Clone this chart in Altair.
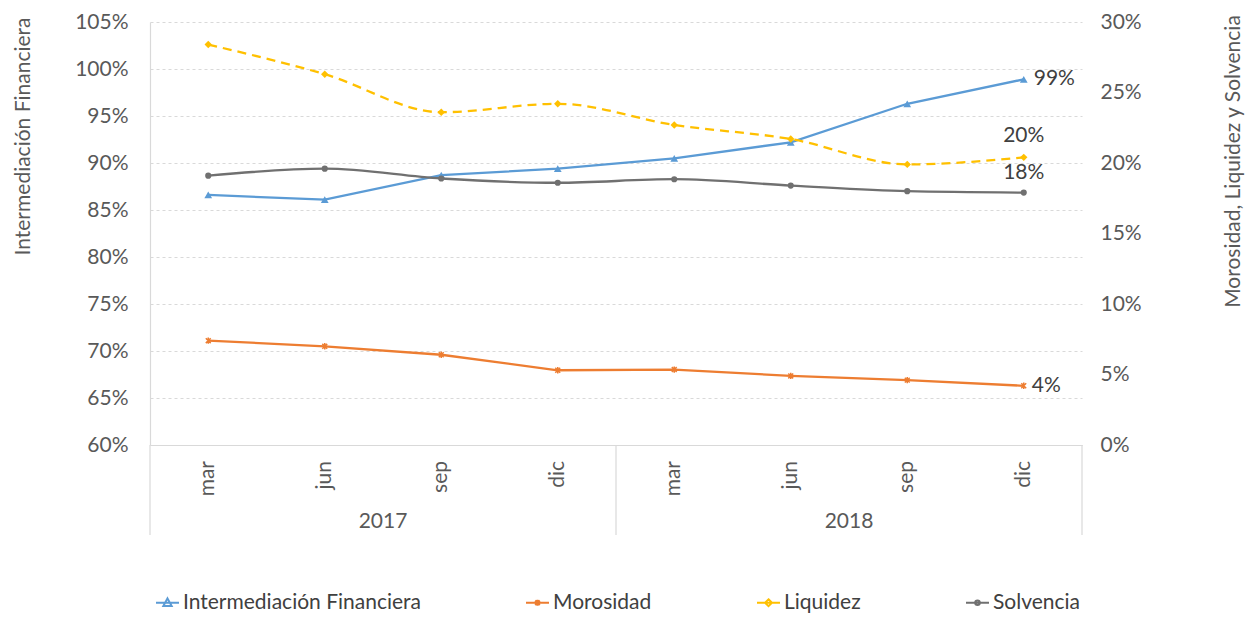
import altair as alt
import pandas as pd

# ---- data ----
months = ["mar", "jun", "sep", "dic", "mar", "jun", "sep", "dic"]
years = ["2017", "2017", "2017", "2017", "2018", "2018", "2018", "2018"]
intermediacion = [86.6, 86.1, 88.7, 89.4, 90.5, 92.2, 96.3, 98.9]
morosidad = [7.4, 7.0, 6.4, 5.3, 5.35, 4.9, 4.6, 4.2]
liquidez = [28.4, 26.3, 23.6, 24.2, 22.7, 21.7, 19.9, 20.4]
solvencia = [19.1, 19.6, 18.9, 18.6, 18.85, 18.4, 18.0, 17.9]
series_names = ["Intermediación Financiera", "Morosidad", "Liquidez", "Solvencia"]
year_labels = ["2017", "2018"]
left_ticks = [60, 65, 70, 75, 80, 85, 90, 95, 100, 105]
right_ticks = [0, 5, 10, 15, 20, 25, 30]

colors = ["#5B9BD5", "#ED7D31", "#FFC000", "#707070"]
FONT = "Lato"
FS = 21
TXT = "#595959"
GRID = "#D9D9D9"
H = 423

idx = list(range(len(months)))
rows = []
for name, vals in zip(series_names, [intermediacion, morosidad, liquidez, solvencia]):
    for i, v in zip(idx, vals):
        rows.append({"idx": i, "month": months[i], "year": years[i], "series": name, "value": v})
df = pd.DataFrame(rows)

month_df = pd.DataFrame({"idx": idx, "month": months})
year_df = pd.DataFrame({"pos": [1.5, 5.5], "year": year_labels})
sep_df = pd.DataFrame({"pos": [-0.5, 3.5, 7.5]})

xscale = alt.Scale(domain=[-0.5, 7.5], nice=False, zero=False)
X = alt.X("idx:Q", scale=xscale,
          axis=alt.Axis(labels=False, ticks=False, grid=False, title=None,
                        domainColor=GRID, domainWidth=1.2))

yL = alt.Y("value:Q", scale=alt.Scale(domain=[60, 105], nice=False, zero=False),
           axis=alt.Axis(values=left_ticks, labelExpr="datum.value + '%'", ticks=False,
                         grid=True, gridDash=[3, 3], gridColor=GRID, domainColor=GRID,
                         domainWidth=1.2, labelPadding=22, labelFontSize=FS, labelColor=TXT,
                         title="Intermediación Financiera", titleFontSize=FS, titleColor=TXT,
                         titleFontWeight="normal", titleAngle=270, titleX=-127, titleY=114,
                         titleAlign="center", titleBaseline="middle"))
yR = alt.Y("value:Q", scale=alt.Scale(domain=[0, 30], nice=False, zero=True),
           axis=alt.Axis(values=right_ticks, labelExpr="datum.value + '%'", ticks=False,
                         grid=False, domain=False, orient="right", labelPadding=18,
                         labelFontSize=FS, labelColor=TXT,
                         title="Morosidad, Liquidez y Solvencia", titleFontSize=FS,
                         titleColor=TXT, titleFontWeight="normal", titleAngle=270,
                         titleX=151, titleY=139, titleAlign="center", titleBaseline="middle"))

styles = {
    "Intermediación Financiera": dict(shape="triangle-up", size=60, interp="linear", dash=None),
    "Morosidad": dict(shape="M-1,-1L1,1M-1,1L1,-1M0,-1.3V1.3", size=24, interp="linear", dash=None),
    "Liquidez": dict(shape="diamond", size=55, interp="monotone", dash=[9, 6]),
    "Solvencia": dict(shape="circle", size=38, interp="monotone", dash=None),
}


def series_layers(name, color, y):
    st = styles[name]
    base = alt.Chart(df).transform_filter(alt.datum.series == name)
    line_kw = dict(color=color, strokeWidth=2.3, interpolate=st["interp"])
    if st["dash"]:
        line_kw["strokeDash"] = st["dash"]
    line = base.mark_line(**line_kw).encode(x=X, y=y)
    filled = name != "Morosidad"
    pts = base.mark_point(shape=st["shape"], size=st["size"], filled=filled, color=color,
                          opacity=1, strokeWidth=1.5).encode(x=X, y=y)
    return [line, pts]


def end_label(name, y, **kw):
    return (alt.Chart(df)
            .transform_filter((alt.datum.series == name) & (alt.datum.idx == 7))
            .transform_calculate(lbl="format(datum.value, '.0f') + '%'")
            .mark_text(font=FONT, fontSize=FS, color="#404040", **kw)
            .encode(x=X, y=y, text="lbl:N"))


left_layers = series_layers(series_names[0], colors[0], yL)
left_layers.append(end_label(series_names[0], yL, align="left", baseline="middle", dx=10))

right_layers = []
for name, c in zip(series_names[1:], colors[1:]):
    right_layers += series_layers(name, c, yR)
right_layers.append(end_label("Morosidad", yR, align="left", baseline="middle", dx=8))
right_layers.append(end_label("Liquidez", yR, align="center", baseline="middle", dy=-21))
right_layers.append(end_label("Solvencia", yR, align="center", baseline="middle", dy=-20))

left = alt.layer(*left_layers)
right = alt.layer(*right_layers)

# category axis (two levels)
month_text = alt.Chart(month_df).mark_text(
    font=FONT, fontSize=FS, color=TXT, angle=270, align="right", baseline="middle"
).encode(x=alt.X("idx:Q", scale=xscale), y=alt.value(H + 16), text="month:N")
year_text = alt.Chart(year_df).mark_text(
    font=FONT, fontSize=FS, color=TXT, align="center", baseline="middle"
).encode(x=alt.X("pos:Q", scale=xscale), y=alt.value(H + 77), text="year:N")
separators = alt.Chart(sep_df).mark_rule(color=GRID, strokeWidth=1.2).encode(
    x=alt.X("pos:Q", scale=xscale), y=alt.value(H), y2=alt.value(H + 90))

# legend (line + marker symbols)
legend_paths = [
    "M-1,0H1M0,-0.38L0.36,0.28L-0.36,0.28Z",
    "M-1,0H1M-0.2,-0.2L0.2,0.2M-0.2,0.2L0.2,-0.2M0,-0.26V0.26",
    "M-1,0H1M0,-0.3L0.3,0L0,0.3L-0.3,0Z",
    "M-1,0H1M0.2,0A0.2,0.2 0 1,1 -0.2,0A0.2,0.2 0 1,1 0.2,0Z",
]
legend_layer = alt.Chart(df).mark_point(opacity=0, filled=False).encode(
    x=X, y=alt.value(0),
    color=alt.Color("series:N", scale=alt.Scale(domain=series_names, range=colors),
                    sort=series_names,
                    legend=alt.Legend(orient="none", legendX=5, legendY=568,
                                      direction="horizontal", title=None, columnPadding=101,
                                      symbolSize=529, symbolStrokeWidth=2, symbolOpacity=1,
                                      labelFontSize=FS, labelColor="#404040", labelFont=FONT,
                                      labelOffset=3, labelLimit=400)),
    shape=alt.Shape("series:N", scale=alt.Scale(domain=series_names, range=legend_paths),
                    sort=series_names, legend=alt.Legend(title=None)),
)

chart = alt.layer(
    separators, month_text, year_text, left, right, legend_layer
).resolve_scale(y="independent").properties(
    width=932, height=H,
    autosize=alt.AutoSizeParams(type="none"),
    padding={"left": 142, "top": 14, "right": 164, "bottom": 168},
).configure(font=FONT).configure_view(stroke=None)

chart.save("out.html", embed_options={"renderer": "svg", "actions": False})
